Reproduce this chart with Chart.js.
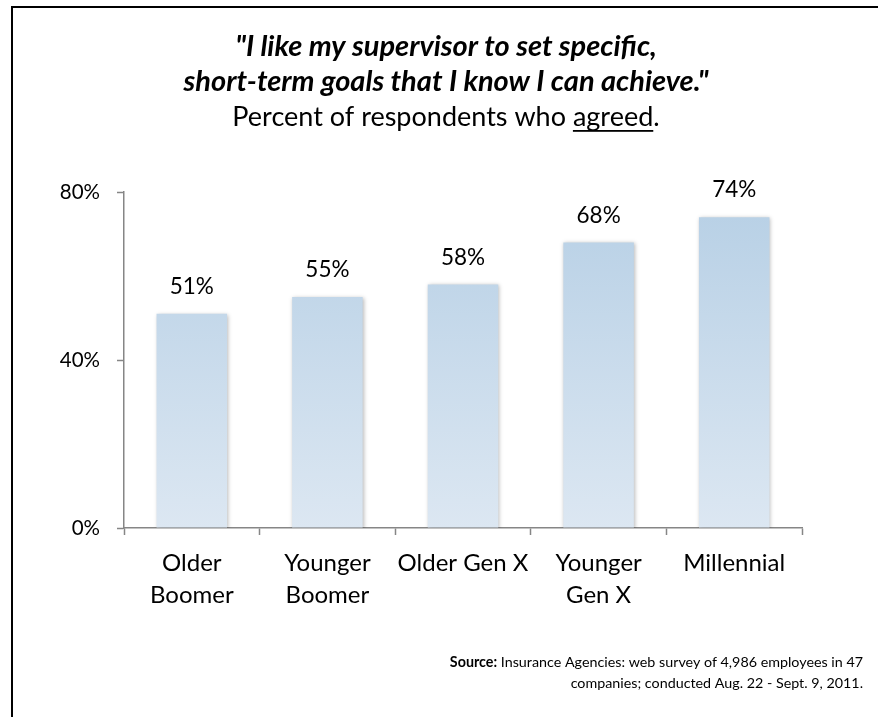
<!DOCTYPE html>
<html>
<head>
<meta charset="utf-8">
<script src="https://cdn.jsdelivr.net/npm/chart.js@4.4.1/dist/chart.umd.min.js"></script>
<style>
  body { margin: 0; background: #fff; }
  #wrap { position: relative; width: 878px; height: 717px; }
</style>
</head>
<body>
<div id="wrap"><canvas id="bar-chart" width="878" height="717"></canvas></div>
<script>
const categories = [["Older", "Boomer"], ["Younger", "Boomer"], "Older Gen X", ["Younger", "Gen X"], "Millennial"];
const agreed = [51, 55, 58, 68, 74];
const yTicks = [0, 40, 80];

const titleLines = ["\"I like my supervisor to set specific,", "short-term goals that I know I can achieve.\""];
const subtitleParts = ["Percent of respondents who ", "agreed", "."];
const sourceLines = [["Source:", " Insurance Agencies: web survey of 4,986 employees in 47"], ["", "companies; conducted Aug. 22 - Sept. 9, 2011."]];

const FONT = "Lato, 'Open Sans', sans-serif";

// frame, heading and source note
const decorPlugin = {
  id: "decor",
  afterDraw(chart) {
    const c = chart.ctx;
    c.save();
    c.strokeStyle = "#000";
    c.lineWidth = 2;
    c.strokeRect(12, 7, 900, 740);

    c.fillStyle = "#000";
    c.textBaseline = "middle";
    c.textAlign = "center";
    c.font = "italic bold 29px " + FONT;
    c.fillText(titleLines[0], 446, 47);
    c.fillText(titleLines[1], 446, 82);

    c.font = "27px " + FONT;
    const w0 = c.measureText(subtitleParts[0]).width;
    const w1 = c.measureText(subtitleParts[1]).width;
    const w2 = c.measureText(subtitleParts[2]).width;
    let x = 446 - (w0 + w1 + w2) / 2;
    c.textAlign = "left";
    c.fillText(subtitleParts[0], x, 117);
    c.fillText(subtitleParts[1], x + w0, 117);
    c.fillText(subtitleParts[2], x + w0 + w1, 117);
    c.fillRect(x + w0, 130, w1, 1.8);

    c.textAlign = "right";
    const ys = [662, 683];
    sourceLines.forEach((ln, i) => {
      c.font = "14.3px " + FONT;
      const rest = c.measureText(ln[1]).width;
      c.fillText(ln[1], 863, ys[i]);
      if (ln[0]) {
        c.font = "bold 14.3px " + FONT;
        c.fillText(ln[0], 863 - rest, ys[i]);
      }
    });
    c.restore();
  }
};

// soft shadow round the bars, then the value labels
const shadowPlugin = {
  id: "barShadow",
  beforeDatasetsDraw(chart) {
    const c = chart.ctx;
    c.save();
    c.shadowColor = "rgba(0,0,0,0.28)";
    c.shadowBlur = 4;
    c.shadowOffsetX = 1;
    c.shadowOffsetY = 1;
  },
  afterDatasetsDraw(chart) {
    chart.ctx.restore();
    const c = chart.ctx;
    c.save();
    c.font = "22.5px " + FONT;
    c.fillStyle = "#000";
    c.textAlign = "center";
    c.textBaseline = "middle";
    chart.getDatasetMeta(0).data.forEach((bar, i) => {
      c.fillText(agreed[i] + "%", bar.x, bar.y - 27);
    });
    c.restore();
  }
};

const ctx = document.getElementById("bar-chart").getContext("2d");

new Chart(ctx, {
  type: "bar",
  data: {
    labels: categories,
    datasets: [{
      data: agreed,
      backgroundColor: (context) => {
        const area = context.chart.chartArea;
        if (!area) return "#c4d8ea";
        const g = context.chart.ctx.createLinearGradient(0, context.chart.scales.y.getPixelForValue(74), 0, area.bottom);
        g.addColorStop(0, "#b9d1e6");
        g.addColorStop(1, "#dce7f2");
        return g;
      },
      borderWidth: 0,
      barPercentage: 0.52,
      categoryPercentage: 1
    }]
  },
  options: {
    responsive: false,
    animation: false,
    layout: { padding: { top: 192, right: 76, bottom: 0, left: 0 } },
    plugins: {
      legend: { display: false },
      tooltip: { enabled: false }
    },
    scales: {
      x: {
        afterFit: (s) => { s.height = 189; },
        grid: { drawOnChartArea: false, drawTicks: true, tickLength: 7, tickColor: "#868686", tickWidth: 1.5, offset: true },
        border: { color: "#868686", width: 1.5 },
        ticks: { color: "#000", font: { family: FONT, size: 24, lineHeight: 1.33 }, padding: 12, maxRotation: 0, autoSkip: false }
      },
      y: {
        min: yTicks[0],
        max: yTicks[yTicks.length - 1],
        afterFit: (s) => { s.width = 124; },
        afterBuildTicks: (s) => { s.ticks = yTicks.map(v => ({ value: v })); },
        grid: { drawOnChartArea: false, drawTicks: true, tickLength: 7, tickColor: "#868686", tickWidth: 1.5 },
        border: { color: "#868686", width: 1.5 },
        ticks: { color: "#000", font: { family: FONT, size: 20.5 }, padding: 17, callback: (v) => v + "%" }
      }
    }
  },
  plugins: [shadowPlugin, decorPlugin]
});
</script>
</body>
</html>
